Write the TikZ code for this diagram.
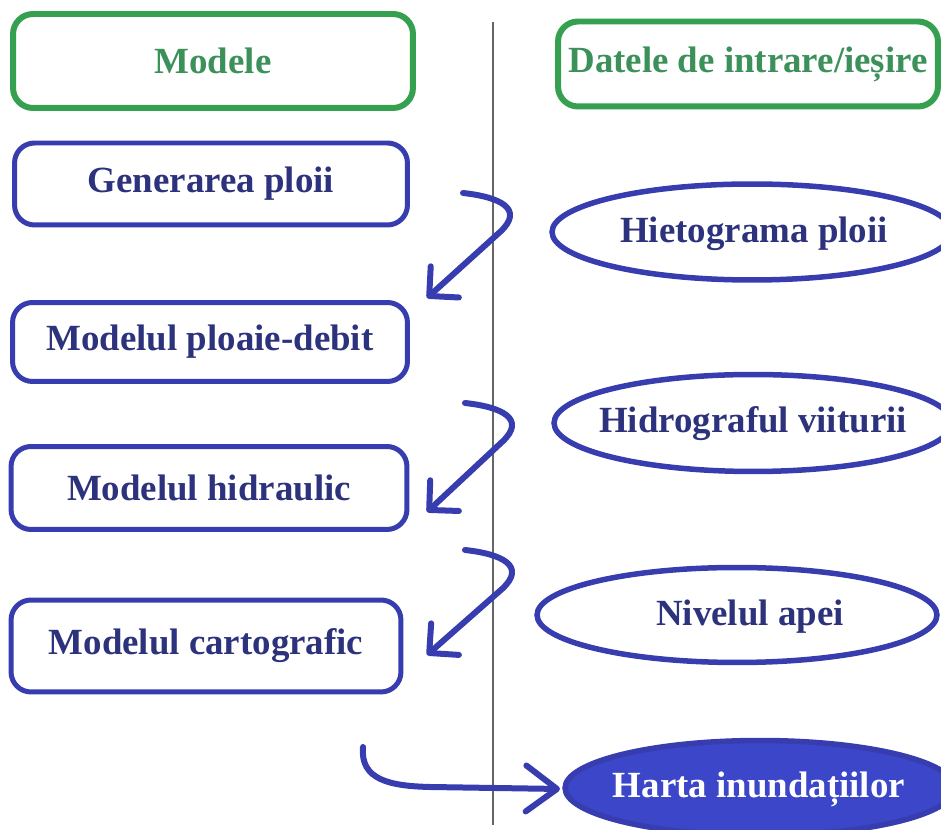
\documentclass[tikz,border=0pt]{standalone}
\usepackage{fontspec}
\setmainfont{Liberation Serif}
\usetikzlibrary{shapes.geometric,arrows.meta}
\definecolor{greenline}{RGB}{52,160,80}
\definecolor{greentext}{RGB}{60,145,90}
\definecolor{blueline}{RGB}{55,60,175}
\definecolor{bluetext}{RGB}{45,50,125}
\definecolor{bluefill}{RGB}{60,70,200}
\tikzstyle{every node}=[font=\fontsize{21}{25}\selectfont\bfseries]
\tikzstyle{headbox}=[draw=greenline,text=greentext,line width=0.12cm,rounded corners=0.4cm]
\tikzstyle{modelbox}=[draw=blueline,text=bluetext,line width=0.1cm,rounded corners=0.4cm]
\tikzstyle{dataell}=[ellipse,draw=blueline,line width=0.11cm,inner sep=0pt]
\tikzstyle{datatext}=[text=bluetext,inner sep=0pt]
\tikzstyle{flow}=[blueline,line width=0.12cm,line cap=round,
          -{Straight Barb[length=0.42cm,width=0.84cm,round]}]

\begin{document}
\begin{tikzpicture}[x=0.02cm,y=-0.02cm]
          \useasboundingbox (0,0) rectangle (941,830);
          \clip (0,0) rectangle (941,830);
          % separator
          \draw[black!60,line width=0.7pt] (493,22) -- (493,825);
          % left column: models
          \node[headbox,minimum width=8cm,minimum height=1.88cm] (modele) at (213,61) {Modele};
          \node[modelbox,minimum width=7.86cm,minimum height=1.64cm] (gen) at (211,184) {Generarea ploii};
          \node[modelbox,minimum width=7.9cm,minimum height=1.58cm] (pd) at (210,342) {Modelul ploaie-debit};
          \node[modelbox,minimum width=7.92cm,minimum height=1.66cm] (hidr) at (209,488) {Modelul hidraulic};
          \node[modelbox,minimum width=7.8cm,minimum height=1.84cm] (carto) at (206,646) {Modelul cartografic};
          % right column: input/output data
          \node[headbox,minimum width=7.6cm,minimum height=1.7cm] (datele) at (748,64) {Datele de intrare/ieșire};
          \node[dataell,minimum width=8cm,minimum height=1.92cm] (hiet) at (752,232) {};
          \node[datatext] (hiettext) at (754,234) {Hietograma ploii};
          \node[dataell,minimum width=7.96cm,minimum height=1.94cm] (hidrog) at (753,423) {};
          \node[datatext] (hidrogtext) at (753,424) {Hidrograful viiturii};
          \node[dataell,minimum width=8cm,minimum height=1.9cm] (nivel) at (737,615) {};
          \node[datatext] (niveltext) at (750,617) {Nivelul apei};
          \node[dataell,fill=bluefill,minimum width=7.8cm,minimum height=1.9cm] (harta) at (760,788) {};
          \node[datatext,text=white] (hartatext) at (759,789) {Harta inundațiilor};
          % flow arrows
          \coordinate (f1s) at (463,193);
          \coordinate (f1e) at (427,298);
          \coordinate (f2s) at (465,403);
          \coordinate (f2e) at (427,512);
          \coordinate (f3s) at (465,550);
          \coordinate (f3e) at (427,655);
          \coordinate (f4s) at (363,747);
          \coordinate (f4e) at (560,789);
          \draw[flow] (f1s) .. controls (500,197) and (525,209) .. (500,232) -- (f1e);
          \draw[flow] (f2s) .. controls (502,407) and (527,419) .. (502,442) -- (f2e);
          \draw[flow] (f3s) .. controls (502,554) and (527,566) .. (502,589) -- (f3e);
          \draw[flow,-{Straight Barb[length=0.62cm,width=0.92cm,round]}]
            (f4s) .. controls (360,780) and (390,786) .. (430,787) -- (f4e);
        \end{tikzpicture}
\end{document}
